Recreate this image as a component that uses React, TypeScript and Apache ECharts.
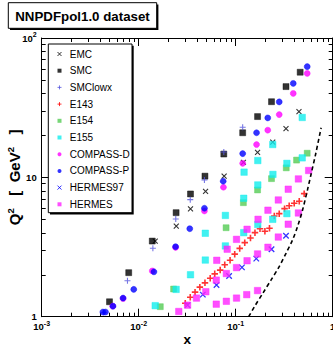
import React, { useEffect, useRef } from 'react';
import * as echarts from 'echarts';

const FONT = 'Liberation Sans, Arial, Helvetica, sans-serif';

// Tick values (slightly inside the ends so the boundary labels are kept)
const xMajor = [0.0010001, 0.01, 0.1, 0.99999];
const xMinor = [0.002, 0.003, 0.004, 0.005, 0.006, 0.007, 0.008, 0.009,
  0.02, 0.03, 0.04, 0.05, 0.06, 0.07, 0.08, 0.09,
  0.2, 0.3, 0.4, 0.5, 0.6, 0.7, 0.8, 0.9];
const yMajor = [1.0001, 10, 99.999];
const yMinor = [2, 3, 4, 5, 6, 7, 8, 9, 20, 30, 40, 50, 60, 70, 80, 90];

// Data: [x, Q2]
const emc = [[0.0148, 3.48], [0.0244, 4.46], [0.0342, 5.93], [0.0489, 7.94], [0.076, 10.2], [0.12, 12.8], [0.168, 15.1], [0.241, 17.9], [0.33, 22.4], [0.449, 29.6]];
const smc = [[0.005, 1.28], [0.00789, 2.07], [0.0138, 3.49], [0.0243, 5.58], [0.0342, 7.6], [0.0482, 10.2], [0.0754, 14.7], [0.118, 20.9], [0.168, 27.3], [0.234, 34.9], [0.33, 44.8], [0.462, 56.8]];
const smcLowx = [[0.00436, 1.07], [0.00766, 1.81], [0.014, 3.1], [0.0241, 5.03], [0.034, 6.92], [0.0476, 9.58], [0.0754, 15.2], [0.118, 22.9]];
const e143 = [[0.0302, 1.25], [0.034, 1.38], [0.0381, 1.5], [0.0427, 1.63], [0.0482, 1.75], [0.0546, 1.89], [0.0608, 2.03], [0.0692, 2.16], [0.0771, 2.36], [0.0875, 2.54], [0.0977, 2.81], [0.11, 3.09], [0.124, 3.4], [0.142, 3.67], [0.158, 4.01], [0.178, 4.28], [0.2, 4.1], [0.223, 4.31], [0.25, 5.28], [0.281, 5.49], [0.319, 5.96], [0.356, 6.26], [0.401, 6.52], [0.452, 6.74], [0.508, 7.64]];
const e154 = [[0.0167, 1.18], [0.0229, 1.58], [0.0796, 4.35], [0.12, 6.58], [0.168, 8.12], [0.234, 9.79], [0.332, 11.7], [0.424, 13.3], [0.546, 14.9]];
const e155 = [[0.0148, 1.2], [0.0243, 1.57], [0.0342, 2.0], [0.0486, 2.55], [0.0486, 3.97], [0.0783, 3.22], [0.0783, 5.33], [0.121, 4.01], [0.121, 7.08], [0.122, 10.9], [0.169, 4.59], [0.169, 8.82], [0.169, 13.2], [0.241, 5.0], [0.242, 10.5], [0.241, 17.2], [0.337, 5.49], [0.337, 12.6], [0.485, 13.8], [0.485, 26.9]];
const compassD = [[0.0054, 1.19], [0.0069, 1.35], [0.0138, 2.13], [0.024, 3.14], [0.0476, 5.74], [0.0748, 8.49], [0.118, 12.6], [0.164, 17.2], [0.214, 21.8], [0.281, 28.2], [0.392, 40.0], [0.546, 55.7]];
const compassP = [[0.00427, 1.08], [0.00455, 1.08], [0.00543, 1.19], [0.0069, 1.36], [0.00889, 1.57], [0.01435, 2.1], [0.024, 3.18], [0.0336, 4.28], [0.0476, 6.0], [0.0743, 9.38], [0.118, 14.8], [0.164, 20.9], [0.214, 26.7], [0.281, 34.8], [0.392, 47.2], [0.546, 62.3]];
const hermes97 = [[0.0319, 1.21], [0.0458, 1.44], [0.0634, 1.69], [0.0855, 1.96], [0.116, 2.26], [0.163, 2.61], [0.234, 3.05], [0.33, 3.81]];
const hermes = [
  [0.0259, 1.09], [0.063, 1.23], [0.0801, 1.29], [0.102, 1.36], [0.13, 1.44], [0.168, 1.54],
  [0.0319, 1.21], [0.0394, 1.36], [0.0492, 1.51], [0.063, 1.83], [0.0801, 2.04], [0.102, 2.25], [0.131, 2.52], [0.168, 2.82], [0.215, 3.15], [0.275, 3.73], [0.348, 4.61], [0.443, 5.55],
  [0.0638, 2.54], [0.0817, 3.05], [0.102, 3.59], [0.131, 4.24], [0.17, 5.0], [0.215, 5.81], [0.275, 6.88], [0.348, 8.22], [0.443, 9.74], [0.565, 11.2]];
const cutX = [0.136, 0.156, 0.19, 0.231, 0.281, 0.33, 0.385, 0.434, 0.489, 0.549, 0.596, 0.67, 0.76];
const cutQ2 = [1.0, 1.18, 1.47, 1.83, 2.29, 2.85, 3.55, 4.43, 5.83, 8.12, 10.4, 14.9, 22.7];

const X_SYM = 'path://M0,0L10,10M0,10L10,0';
const PLUS_SYM = 'path://M5,0L5,10M0,5L10,5';

type Def = { name: string; data: number[][]; symbol: string; size: number; color: string; line?: boolean; lw?: number };
const defs: Def[] = [
  { name: 'EMC', data: emc, symbol: X_SYM, size: 5, color: '#000000', line: true, lw: 1.1 },
  { name: 'SMC', data: smc, symbol: 'rect', size: 6, color: '#000000' },
  { name: 'SMClowx', data: smcLowx, symbol: PLUS_SYM, size: 6, color: '#5555dd', line: true, lw: 1.1 },
  { name: 'E143', data: e143, symbol: PLUS_SYM, size: 6.5, color: '#ff0000', line: true, lw: 1.6 },
  { name: 'E154', data: e154, symbol: 'rect', size: 6, color: '#55cc55' },
  { name: 'E155', data: e155, symbol: 'rect', size: 6.5, color: '#11eeee' },
  { name: 'COMPASS-D', data: compassD, symbol: 'circle', size: 6, color: '#ff00ff' },
  { name: 'COMPASS-P', data: compassP, symbol: 'circle', size: 6, color: '#0000ff' },
  { name: 'HERMES97', data: hermes97, symbol: X_SYM, size: 5.5, color: '#0000ff', line: true, lw: 1.3 },
  { name: 'HERMES', data: hermes, symbol: 'rect', size: 6.5, color: '#ff22ff' },
];

const supRich = {
  b: { fontSize: 9.5, fontWeight: 'bold', fontFamily: FONT, color: '#000', lineHeight: 14 },
  s: { fontSize: 7, fontWeight: 'bold', fontFamily: FONT, color: '#000', verticalAlign: 'top' },
};

const fmtPow = (v: number) => {
  const e = Math.round(Math.log10(v));
  if (e === 0) return '{b|1}';
  if (e === 1) return '{b|10}';
  return '{b|10}{s|' + e + '}';
};

const axisLineStyle = { show: true, lineStyle: { color: '#000', width: 1 } };

function mkX(position: string, ticks: number[], len: number, main: boolean, lineShow: boolean) {
  return {
    type: 'log', logBase: 10, min: 0.001, max: 1, position, gridIndex: 0,
    axisLine: lineShow ? axisLineStyle : { show: false },
    axisTick: { show: true, inside: true, length: len, customValues: ticks, lineStyle: { color: '#000', width: 1 } },
    axisLabel: main
      ? { show: true, customValues: xMajor, margin: 3, formatter: fmtPow, rich: supRich }
      : { show: false },
    minorTick: { show: false },
    splitLine: { show: false },
    name: main ? 'x' : '',
    nameLocation: 'middle',
    nameGap: 17.6,
    nameMoveOverlap: false,
    nameTextStyle: { fontSize: 13.5, fontWeight: 'bold', fontFamily: FONT, color: '#000', lineHeight: 10 },
  };
}

function mkY(position: string, ticks: number[], len: number, main: boolean, lineShow: boolean) {
  return {
    type: 'log', logBase: 10, min: 1, max: 100, position, gridIndex: 0,
    axisLine: lineShow ? axisLineStyle : { show: false },
    axisTick: { show: true, inside: true, length: len, customValues: ticks, lineStyle: { color: '#000', width: 1 } },
    axisLabel: main
      ? { show: true, customValues: yMajor, margin: 5, formatter: fmtPow, rich: supRich }
      : { show: false },
    minorTick: { show: false },
    splitLine: { show: false },
    name: main ? '{q|Q}{s|2}{q|   [  GeV}{s|2}{q|   ]}' : '',
    nameLocation: 'middle',
    nameRotate: 90,
    nameGap: 19.2,
    nameMoveOverlap: false,
    nameTextStyle: {
      rich: {
        q: { fontSize: 15, fontWeight: 'bold', fontFamily: FONT, color: '#000', lineHeight: 17 },
        s: { fontSize: 9.5, fontWeight: 'bold', fontFamily: FONT, color: '#000', verticalAlign: 'top' },
      },
    },
  };
}

export default function App() {
  const ref = useRef<HTMLDivElement>(null);
  useEffect(() => {
    if (!ref.current) return;
    const chart = echarts.init(ref.current, null, { renderer: 'svg', width: 333, height: 346 });
    const styleOf = (d: Def, lwScale: number) => (d.line
      ? { color: d.color, borderColor: d.color, borderWidth: (d.lw || 1) * lwScale }
      : { color: d.color, borderColor: d.color, borderWidth: 0.5 });
    // Empty series first: they give the legend its small markers.
    const legendSeries: any[] = defs.map((d) => ({
      name: d.name,
      type: 'scatter',
      data: [],
      symbol: d.symbol,
      symbolSize: 4,
      itemStyle: styleOf(d, 0.8),
      emphasis: { disabled: true },
      silent: true,
    }));
    const series: any[] = defs.map((d) => ({
      name: d.name,
      type: 'scatter',
      xAxisIndex: 0,
      yAxisIndex: 0,
      data: d.data,
      symbol: d.symbol,
      symbolSize: d.size,
      itemStyle: styleOf(d, 1),
      emphasis: { disabled: true },
      z: 2,
    }));
    series.push({
      name: 'cut',
      type: 'line',
      xAxisIndex: 0,
      yAxisIndex: 0,
      data: cutX.map((x, i) => [x, cutQ2[i]]),
      showSymbol: false,
      smooth: 0.3,
      lineStyle: { color: '#000', width: 1.6, type: [4, 3] },
      emphasis: { disabled: true },
      z: 3,
    });
    chart.setOption({
      animation: false,
      backgroundColor: '#fff',
      textStyle: { fontFamily: FONT },
      grid: { left: 41.7, right: 0.3, top: 38, bottom: 29.3, containLabel: false, outerBoundsMode: 'none' },
      xAxis: [
        mkX('bottom', xMajor, 8, true, true),
        mkX('bottom', xMinor, 4, false, false),
        mkX('top', xMajor, 8, false, true),
        mkX('top', xMinor, 4, false, false),
      ],
      yAxis: [
        mkY('left', yMajor, 8, true, true),
        mkY('left', yMinor, 4, false, false),
        mkY('right', yMajor, 8, false, true),
        mkY('right', yMinor, 4, false, false),
      ],
      legend: {
        orient: 'vertical',
        left: 57,
        top: 45.65,
        padding: 0,
        itemGap: 0,
        itemWidth: 4,
        itemHeight: 4,
        selectedMode: false,
        textStyle: { fontSize: 10, fontFamily: FONT, color: '#000', lineHeight: 16.7, padding: [0, 0, 0, 3.3] },
        data: defs.map((d) => ({
          name: d.name,
          itemStyle: d.line ? { borderWidth: 1 } : { borderWidth: 0 },
        })),
        z: 5,
      },
      graphic: [
        { type: 'rect', z: 3, shape: { x: 50, y: 45.7, width: 83.7, height: 168.7 }, style: { fill: '#000' } },
        { type: 'rect', z: 3, shape: { x: 48.3, y: 44, width: 83.7, height: 168.7 }, style: { fill: '#fff', stroke: '#000', lineWidth: 1 } },
        { type: 'rect', z: 3, shape: { x: 10, y: 4.4, width: 148.4, height: 25.6 }, style: { fill: '#000' } },
        { type: 'rect', z: 3, shape: { x: 8.3, y: 2.7, width: 148.4, height: 25.6 }, style: { fill: '#fff', stroke: '#000', lineWidth: 1 } },
        {
          type: 'text', z: 4, x: 82.5, y: 16,
          style: { text: 'NNPDFpol1.0 dataset', fill: '#000', font: 'bold 13.3px ' + FONT, textAlign: 'center', textVerticalAlign: 'middle' },
        },
      ],
      series: legendSeries.concat(series),
    });
    return () => chart.dispose();
  }, []);
  return <div ref={ref} style={{ position: 'fixed', left: 0, top: 0, width: 333, height: 346, background: '#fff' }} />;
}
